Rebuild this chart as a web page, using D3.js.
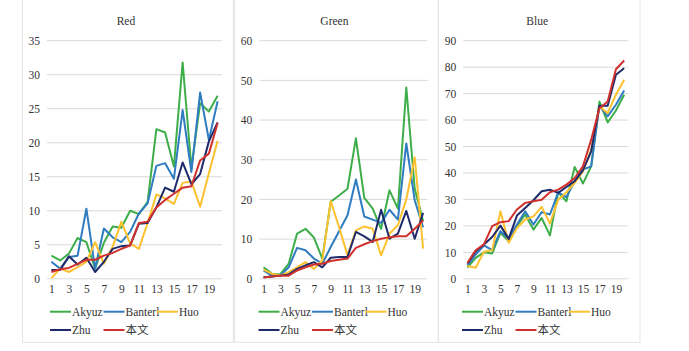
<!DOCTYPE html>
<html>
<head>
<meta charset="utf-8">
<script src="https://cdn.jsdelivr.net/npm/d3@7"></script>
<style>
  body { margin: 0; background: #fff; }
</style>
</head>
<body>
<svg id="chart" width="689" height="351"></svg>
<script>
// categories 1..20, odd labels shown
const categories = d3.range(1, 21);
const tickLabels = [1, 3, 5, 7, 9, 11, 13, 15, 17, 19];
const seriesNames = ["Akyuz", "Banterl", "Huo", "Zhu", "本文"];
const seriesColors = ["#3dae49", "#2f7cc1", "#fcc12e", "#1f2a6b", "#d0312d"];
const serif = "'Liberation Serif', 'DejaVu Serif', 'Noto Sans CJK SC', serif";

// Red channel
const redAkyuz   = [3.4, 2.7, 3.7, 6.0, 5.4, 1.5, 5.3, 7.7, 7.5, 10.0, 9.5, 11.3, 22.0, 21.5, 16.5, 31.8, 16.3, 25.8, 24.6, 26.9];
const redBanterl = [2.5, 1.5, 3.2, 3.4, 10.3, 1.5, 7.4, 6.1, 5.4, 6.9, 9.6, 11.1, 16.6, 17.0, 14.7, 24.8, 15.7, 27.4, 20.4, 26.1];
const redHuo     = [0.1, 1.5, 1.0, 1.7, 2.5, 5.4, 2.2, 4.7, 8.4, 5.2, 4.4, 8.2, 12.4, 11.8, 11.0, 14.1, 14.3, 10.6, 15.5, 20.3];
const redZhu     = [1.3, 1.3, 3.3, 2.1, 3.1, 1.0, 2.5, 4.4, 4.8, 4.9, 8.1, 8.2, 10.5, 13.4, 12.8, 17.1, 13.9, 15.4, 20.2, 23.0];
const redOurs    = [1.0, 1.4, 1.6, 2.2, 2.8, 2.8, 3.4, 3.8, 4.4, 4.9, 8.2, 8.4, 10.5, 11.6, 12.5, 13.4, 13.6, 17.4, 18.4, 22.9];

// Green channel
const greenAkyuz   = [2.9, 1.3, 1.1, 3.8, 11.4, 12.6, 10.4, 5.1, 19.4, 21.0, 22.7, 35.4, 20.4, 17.7, 12.6, 22.3, 17.7, 48.2, 22.7, 14.5];
const greenBanterl = [2.1, 0.8, 0.8, 2.9, 7.8, 7.2, 5.1, 3.8, 8.0, 12.0, 16.0, 25.0, 15.7, 14.9, 14.1, 17.4, 14.9, 34.1, 19.8, 13.0];
const greenHuo     = [2.3, 1.3, 0.8, 1.7, 2.9, 4.2, 2.5, 4.6, 19.6, 13.0, 5.9, 12.2, 13.2, 12.6, 5.9, 11.4, 13.5, 20.0, 30.6, 7.6];
const greenZhu     = [0.4, 0.6, 0.8, 1.1, 2.5, 3.4, 4.2, 2.9, 5.3, 5.5, 5.5, 11.8, 10.7, 9.3, 17.4, 10.1, 11.4, 17.1, 10.1, 16.6];
const greenOurs    = [0.3, 0.6, 0.8, 0.8, 2.1, 2.9, 3.6, 3.8, 4.5, 4.8, 5.1, 7.8, 8.7, 9.5, 10.1, 10.5, 10.7, 10.7, 12.6, 14.7];

// Blue channel
const blueAkyuz   = [4.2, 7.9, 10.0, 9.6, 17.4, 14.2, 19.9, 24.3, 18.6, 23.0, 16.4, 32.7, 29.3, 42.3, 36.0, 42.5, 67.0, 59.1, 63.6, 69.6];
const blueBanterl = [5.0, 9.2, 12.6, 10.8, 18.0, 15.1, 20.5, 25.5, 20.5, 25.2, 24.3, 32.7, 30.9, 36.9, 41.3, 42.5, 65.4, 61.4, 65.8, 71.2];
const blueHuo     = [4.8, 4.2, 10.2, 10.8, 25.5, 13.6, 19.2, 22.4, 23.6, 27.2, 20.9, 29.9, 32.7, 36.2, 40.6, 48.8, 65.2, 62.6, 69.6, 75.2];
const blueZhu     = [5.8, 10.4, 13.0, 15.8, 20.1, 15.1, 23.9, 26.8, 29.7, 33.1, 33.7, 32.5, 34.7, 36.9, 41.0, 48.2, 65.4, 65.4, 77.1, 79.6];
const blueOurs    = [6.0, 10.8, 13.0, 19.9, 21.4, 21.8, 26.2, 28.7, 29.3, 29.9, 32.7, 33.7, 35.6, 38.1, 42.5, 52.6, 64.5, 67.0, 79.2, 82.5];

const redTicks = [0, 5, 10, 15, 20, 25, 30, 35];
const greenTicks = [0, 10, 20, 30, 40, 50, 60];
const blueTicks = [0, 10, 20, 30, 40, 50, 60, 70, 80, 90];

const panels = [
  { title: "Red", series: [redAkyuz, redBanterl, redHuo, redZhu, redOurs], ticks: redTicks,
    box: [22.5, 233.3], plot: [47, 222], legendX: 50 },
  { title: "Green", series: [greenAkyuz, greenBanterl, greenHuo, greenZhu, greenOurs], ticks: greenTicks,
    box: [234.5, 438.3], plot: [259.3, 427.3], legendX: 258.5 },
  { title: "Blue", series: [blueAkyuz, blueBanterl, blueHuo, blueZhu, blueOurs], ticks: blueTicks,
    box: [438.3, 640], plot: [463.3, 628.3], legendX: 462 }
];

const svg = d3.select("#chart");
const plotTop = 40.7, plotBottom = 278.8;

panels.forEach(p => {
  const g = svg.append("g");

  // light panel frame
  g.append("rect")
    .attr("x", p.box[0]).attr("y", -2)
    .attr("width", p.box[1] - p.box[0]).attr("height", 344.3)
    .attr("fill", "none").attr("stroke", "#e4e4e4").attr("stroke-width", 1);

  g.append("text")
    .attr("x", (p.box[0] + p.box[1]) / 2 - 2).attr("y", 24.5)
    .attr("text-anchor", "middle")
    .attr("font-family", serif).attr("font-size", 11.5).attr("fill", "#333")
    .text(p.title);

  const x = d3.scalePoint().domain(categories).range(p.plot).padding(0.5);
  const y = d3.scaleLinear().domain([0, d3.max(p.ticks)]).range([plotBottom, plotTop]);

  // gridlines
  g.selectAll(".grid").data(p.ticks).enter().append("line")
    .attr("x1", p.plot[0]).attr("x2", p.plot[1])
    .attr("y1", d => y(d)).attr("y2", d => y(d))
    .attr("stroke", "#d9d9d9").attr("stroke-width", 1);

  const yAxis = g.append("g")
    .attr("transform", `translate(${p.plot[0] - 7},0)`)
    .call(d3.axisLeft(y).tickValues(p.ticks).tickSize(0).tickPadding(0))
    .attr("font-family", serif).attr("font-size", 11.5);
  yAxis.select(".domain").remove();
  yAxis.selectAll("text").attr("fill", "#333");

  const xAxis = g.append("g")
    .attr("transform", `translate(0,${plotBottom + 6})`)
    .call(d3.axisBottom(x).tickValues(tickLabels).tickSize(0).tickPadding(0))
    .attr("font-family", serif).attr("font-size", 11.5);
  xAxis.select(".domain").remove();
  xAxis.selectAll("text").attr("fill", "#333");

  const line = d3.line().x((d, i) => x(categories[i])).y(d => y(d));
  p.series.forEach((vals, si) => {
    g.append("path").datum(vals)
      .attr("d", line)
      .attr("fill", "none")
      .attr("stroke", seriesColors[si])
      .attr("stroke-width", 2)
      .attr("stroke-linejoin", "round");
  });

  // legend: 3 on first row, 2 on second
  seriesNames.forEach((name, si) => {
    const col = si < 3 ? si : si - 3;
    const rowY = si < 3 ? 311.7 : 330;
    const lx = p.legendX + col * 53.5;
    g.append("line")
      .attr("x1", lx).attr("x2", lx + 21)
      .attr("y1", rowY).attr("y2", rowY)
      .attr("stroke", seriesColors[si]).attr("stroke-width", 2);
    g.append("text")
      .attr("x", lx + 22).attr("y", rowY + 4)
      .attr("font-family", serif).attr("font-size", 11.5).attr("fill", "#333")
      .text(name);
  });
});
</script>
</body>
</html>
